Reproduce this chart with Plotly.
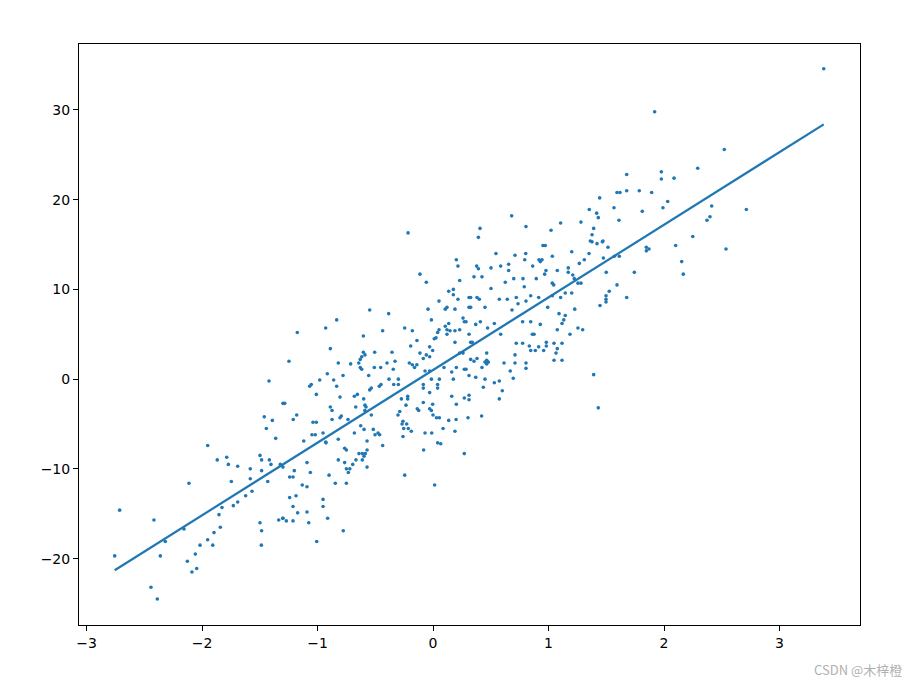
import plotly.graph_objects as go

# Scatter points (x, y)
points_upper = [
    (-0.216, 16.3),
    (1.677, 22.8), (1.593, 20.8), (1.619, 20.8), (1.677, 21.0), (1.786, 21.0), (1.443, 20.2), (1.567, 19.1),
    (1.812, 18.7), (1.353, 18.9), (1.417, 18.5), (1.431, 18.0), (1.610, 17.7), (0.681, 18.2), (0.407, 16.8),
    (0.393, 15.8), (0.805, 17.0), (1.022, 16.6), (1.105, 17.4), (1.281, 17.5), (1.391, 16.8), (1.377, 16.1),
    (1.362, 15.4), (1.472, 15.4),
    (3.383, 34.6), (1.919, 29.8), (2.522, 25.6), (1.977, 23.1), (1.977, 22.3), (2.087, 22.4), (2.292, 23.5),
    (1.893, 20.8), (2.032, 19.8), (1.991, 19.1), (2.413, 19.3), (2.398, 18.1), (2.372, 17.7), (2.713, 18.9),
    (2.249, 15.9),
    (2.101, 14.9), (2.537, 14.5), (2.153, 13.1), (2.167, 11.7), (1.870, 14.5),
]

points_left = [
    (-1.420, -0.2), (-1.461, -4.2), (-1.391, -4.6), (-1.299, -2.7),
    (-2.756, -19.7), (-2.713, -14.6), (-2.442, -23.2), (-2.387, -24.5), (-2.416, -15.7), (-2.361, -19.7),
    (-2.318, -18.1), (-2.156, -16.7), (-2.113, -11.6), (-2.127, -20.3), (-2.087, -21.5), (-2.046, -21.1),
    (-2.058, -19.5), (-2.017, -18.5), (-1.951, -7.4), (-1.951, -17.9), (-1.907, -18.5), (-1.896, -17.1),
    (-1.841, -16.5), (-1.853, -15.1), (-1.827, -14.3), (-1.868, -9.0), (-1.786, -8.7), (-1.772, -9.5),
    (-1.746, -11.4), (-1.691, -9.7), (-1.729, -14.1), (-1.691, -13.7), (-1.622, -13.0), (-1.582, -10.0),
    (-1.582, -11.1), (-1.567, -12.5), (-1.498, -8.5), (-1.484, -9.0), (-1.443, -5.5), (-1.362, -6.6),
    (-1.417, -9.0), (-1.403, -9.5), (-1.484, -10.2), (-1.431, -11.4), (-1.498, -16.0), (-1.484, -16.9),
    (-1.486, -18.5), (-1.336, -15.7), (-1.301, -15.5), (-1.322, -9.5),
    (-1.299, -9.8), (-1.241, -10.9), (-1.212, -10.9), (-1.201, -10.2), (-1.132, -11.8), (-1.091, -12.0),
    (-1.091, -9.3), (-1.062, -10.4), (-1.119, -6.9), (-1.241, -13.2), (-1.186, -13.0), (-1.212, -14.2),
    (-1.172, -14.9), (-1.270, -15.8), (-1.212, -15.8), (-1.299, -15.5), (-1.091, -14.8), (-1.076, -16.0),
    (-0.952, -13.4), (-0.952, -14.2), (-0.912, -15.5), (-1.007, -18.1), (-0.777, -16.9), (-0.900, -10.7),
    (-0.846, -11.6), (-0.750, -11.6), (-0.929, -7.0), (-0.820, -6.7), (-0.765, -7.7), (-0.750, -7.9),
    (-0.820, -9.0), (-0.765, -9.3), (-0.750, -10.0), (-0.720, -10.0), (-0.733, -10.4), (-0.695, -9.5),
    (-0.667, -9.0), (-0.641, -8.3), (-0.612, -8.3), (-0.586, -8.3), (-0.597, -8.6), (-0.612, -9.0),
    (-0.571, -7.9), (-0.571, -6.9), (-0.571, -9.8), (-0.681, -6.0), (-0.597, -5.6), (-0.626, -5.2),
    (-0.517, -5.6), (-0.502, -6.2), (-0.462, -6.2), (-0.476, -6.0), (-0.436, -7.4), (-0.254, -5.5),
    (-0.214, -5.5), (-0.188, -5.8), (-0.268, -5.0), (-0.228, -5.0), (-0.260, -6.4), (-0.245, -10.7),
    (-0.069, -6.0), (-0.011, -6.0), (0.087, -5.5), (0.190, -5.8), (-0.081, -7.9), (0.040, -7.1),
    (0.067, -7.2), (0.271, -8.3), (0.014, -11.8), (-1.048, -6.2), (-1.019, -6.2), (-0.952, -6.0),
    (-0.926, -7.1),
]

points_center = [
    (0.202, 13.3), (0.216, 12.6), (-0.113, 11.7), (-0.058, 10.8), (0.231, 11.0), (0.136, 9.8), (0.176, 10.0),
    (0.176, 9.4), (0.216, 8.9), (0.052, 8.7), (0.106, 7.8), (0.121, 8.0), (0.190, 7.8), (-0.043, 7.8),
    (0.260, 6.8), (0.271, 6.4), (-0.014, 6.6), (0.136, 6.2), (0.106, 5.9), (0.121, 5.5), (0.147, 5.4),
    (0.121, 5.0), (0.052, 5.5), (0.040, 5.2), (0.011, 4.5), (0.026, 4.6), (0.231, 5.5), (0.190, 5.4),
    (0.190, 4.1), (0.260, 2.9), (0.231, 2.9), (-0.548, 7.7), (-0.384, 7.3), (-0.834, 6.6), (-0.929, 5.7),
    (-1.175, 5.2), (-0.603, 4.8), (-0.436, 5.4), (-0.245, 5.7), (-0.179, 5.4), (-0.139, 4.3), (-0.193, 3.7),
    (-0.889, 3.4), (-0.603, 3.0), (-0.589, 2.7), (-0.505, 3.0), (-0.355, 3.0), (-0.113, 2.9), (-0.029, 3.6),
    (-0.003, 3.2), (-0.029, 2.5), (-0.058, 2.7), (-0.084, 2.3), (-1.247, 2.0), (-0.820, 1.8), (-0.617, 2.5),
    (-0.630, 2.2), (-0.643, 1.8), (-0.630, 1.3), (-0.617, 1.1), (-0.713, 1.7), (-0.508, 1.3), (-0.453, 1.3),
    (-0.398, 1.8), (-0.329, 2.0), (-0.344, 1.1), (-0.205, 1.8), (-0.179, 1.6), (-0.140, 1.6), (-0.160, 1.3),
    (0.095, 1.3), (0.202, 1.3), (0.271, 1.1), (-0.915, 0.6), (-0.779, 0.4), (-0.557, 0.4), (-0.381, 0.0),
    (-0.300, 0.0), (-0.069, 0.9), (-0.029, 0.9), (-0.014, 0.0), (0.055, 0.0), (0.162, 0.8), (0.176, 0.0),
    (-1.054, -0.6), (-1.068, -0.8), (-0.981, -0.1), (-0.860, -0.1), (-0.834, -0.8), (-1.010, -1.7),
    (-1.284, -2.7), (-0.681, -1.9), (-0.655, -1.7), (-0.805, -2.0), (-0.548, -1.2), (-0.534, -1.0),
    (-0.600, -2.2), (-0.589, -2.9), (-0.465, -0.8), (-0.450, -0.6), (-0.340, -0.6), (-0.300, -0.6),
    (-0.274, -2.2), (-0.219, -1.9), (-0.219, -2.2), (-0.234, -2.9), (-0.136, -3.3), (-0.124, -3.5),
    (-0.084, -0.6), (-0.084, -1.0), (-0.029, -1.5), (-0.003, -2.8), (-0.084, -2.6), (-0.029, -3.3),
    (-0.014, -3.5), (0.040, -0.6), (0.040, -1.0), (0.162, -1.9), (0.202, -2.8), (0.271, -2.1), (0.136, -4.6),
    (0.055, -4.3), (0.000, -4.0), (0.030, -4.3), (-0.889, -3.1), (-0.874, -3.5), (-0.874, -4.5),
    (-0.794, -4.1), (-0.805, -4.3), (-0.669, -3.1), (-0.580, -3.1), (-0.590, -3.5), (-0.534, -4.0),
    (-0.303, -4.0), (-0.288, -3.6), (-1.039, -4.8), (-1.010, -4.8), (-1.180, -4.0), (-1.210, -4.5),
    (-0.736, -4.5), (-0.260, -4.7), (0.200, -4.5),
]

points_right = [
    (0.952, 14.9), (0.972, 14.9), (0.545, 14.0), (0.710, 13.8), (0.803, 14.0), (1.033, 13.7), (1.201, 14.2),
    (1.351, 14.0), (1.377, 15.3), (1.420, 15.1), (1.466, 15.3), (1.515, 14.7), (1.847, 14.7), (1.847, 14.3),
    (0.378, 12.6), (0.393, 12.3), (0.502, 12.4), (0.586, 12.6), (0.655, 12.8), (0.655, 12.1), (0.794, 13.3),
    (0.918, 13.3), (0.929, 13.1), (0.944, 13.3), (0.863, 12.6), (0.978, 12.1), (0.967, 11.7), (1.076, 12.1),
    (1.171, 12.4), (1.171, 11.9), (1.210, 11.6), (1.223, 11.2), (1.267, 12.9), (1.310, 13.3), (1.475, 13.5),
    (1.570, 13.7), (1.613, 13.7), (1.500, 11.9), (1.743, 11.9), (0.355, 11.4), (0.424, 11.4), (0.699, 11.2),
    (0.779, 11.2), (0.894, 11.2), (0.626, 10.8), (0.790, 10.3), (0.502, 10.1), (1.033, 10.7), (1.045, 10.5),
    (1.255, 10.7), (1.281, 10.7), (1.593, 10.5), (1.526, 9.8), (1.498, 9.3), (1.498, 8.9), (1.498, 8.6),
    (1.446, 8.2), (1.677, 9.1), (0.312, 9.1), (0.326, 9.1), (0.312, 8.0), (0.326, 8.0), (0.381, 9.1),
    (0.401, 8.9), (0.450, 8.0), (0.574, 8.9), (0.643, 8.9), (0.721, 9.1), (0.736, 8.4), (0.805, 8.7),
    (0.846, 9.3), (0.915, 9.1), (0.993, 8.0), (1.033, 9.3), (1.105, 9.1), (1.145, 9.6), (1.201, 9.6),
    (0.684, 7.7), (0.286, 6.4), (0.370, 6.1), (0.410, 6.4), (0.531, 6.2), (0.473, 5.7), (0.586, 5.0),
    (0.776, 6.4), (0.846, 6.4), (0.929, 6.1), (1.091, 7.3), (1.145, 7.1), (1.132, 6.6), (1.117, 6.2),
    (1.227, 7.8), (1.076, 5.5), (1.186, 5.0), (1.255, 5.7), (1.296, 5.5), (0.860, 5.0), (0.875, 5.0),
    (0.312, 5.0), (0.326, 4.1), (0.340, 4.1), (0.721, 4.0), (0.776, 4.0), (0.834, 3.7), (0.846, 3.2),
    (0.886, 3.2), (0.915, 3.6), (0.958, 3.2), (0.981, 4.1), (0.981, 3.7), (1.048, 4.0), (1.117, 4.0),
    (1.076, 3.4), (1.065, 2.9), (1.048, 2.1), (1.117, 2.1), (0.465, 2.9), (0.326, 2.2), (0.355, 2.0),
    (0.381, 2.3), (0.450, 1.9), (0.465, 2.1), (0.479, 1.9), (0.465, 1.7), (0.424, 1.3), (0.286, 1.1),
    (0.312, 0.4), (0.370, 0.2), (0.615, 1.8), (0.710, 1.8), (0.710, 2.7), (0.805, 1.8), (0.805, 1.2),
    (0.669, 0.9), (0.695, 0.1), (0.450, 0.0), (0.436, -0.9), (0.531, -0.4), (0.574, -0.2), (0.600, -1.3),
    (0.574, -2.2), (0.312, -1.8), (0.312, -2.3), (0.303, -4.3), (0.421, -4.1), (1.391, 0.5), (1.431, -3.2),
]

# Fitted line endpoints
line_x = [-2.756, 3.383]
line_y = [-21.3, 28.4]

x_ticks = [-3, -2, -1, 0, 1, 2, 3]
y_ticks = [-20, -10, 0, 10, 20, 30]

all_points = points_upper + points_left + points_center + points_right
xs = [p[0] for p in all_points]
ys = [p[1] for p in all_points]

blue = "#1f77b4"

fig = go.Figure()
fig.add_trace(go.Scatter(
    x=xs, y=ys, mode="markers",
    marker=dict(size=3.6, color=blue, line=dict(width=0)),
    showlegend=False,
))
fig.add_trace(go.Scatter(
    x=line_x, y=line_y, mode="lines",
    line=dict(color=blue, width=2.2),
    showlegend=False,
))

axis_common = dict(
    showgrid=False, zeroline=False,
    showline=True, linecolor="black", linewidth=1, mirror=True,
    ticks="outside", ticklen=5, tickwidth=1, tickcolor="black",
    tickfont=dict(family="DejaVu Sans", size=14, color="black"),
)

fig.update_layout(
    width=905, height=673,
    margin=dict(l=71, r=53, t=36, b=56),
    paper_bgcolor="white", plot_bgcolor="white",
    xaxis=dict(range=[-3.065, 3.697], tickvals=x_ticks, **axis_common),
    yaxis=dict(range=[-27.4, 37.35], tickvals=y_ticks, **axis_common),
    annotations=[dict(
        text="CSDN @木梓橙", xref="paper", yref="paper",
        x=1.056, y=-0.076, xanchor="right", yanchor="middle",
        showarrow=False,
        font=dict(family="Noto Sans CJK SC", size=13, color="#b0b0b0"),
    )],
)

fig.write_html("out.html")
